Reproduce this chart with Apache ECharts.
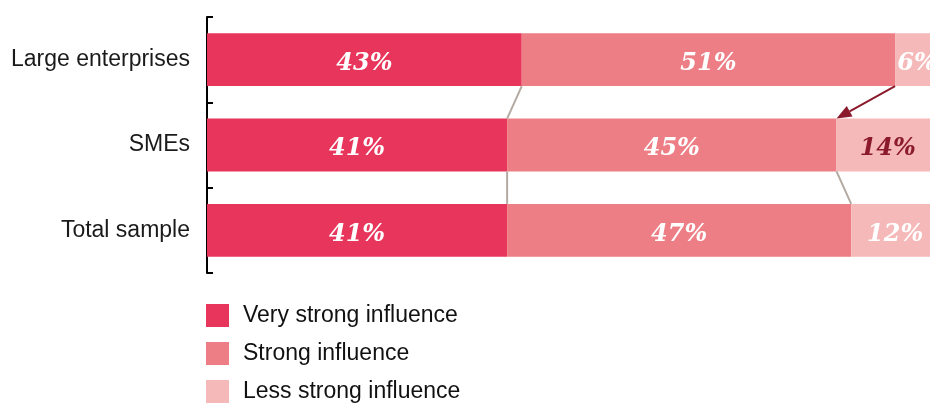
<!DOCTYPE html>
<html>
<head>
<meta charset="utf-8">
<script src="https://cdn.jsdelivr.net/npm/echarts@6/dist/echarts.min.js"></script>
<style>
html, body { margin: 0; padding: 0; background: #fff; overflow: hidden; }
#chart { width: 939px; height: 404px; }
</style>
</head>
<body>
<div id="chart"></div>
<script>
var categories = ['Large enterprises', 'SMEs', 'Total sample'];
var veryStrong = [43, 41, 41];
var strong = [51, 45, 47];
var lessStrong = [6, 14, 12];
var seriesNames = ['Very strong influence', 'Strong influence', 'Less strong influence'];

// connectors: [fromRow, toRow, boundary] ; boundary 1 = after very strong, 2 = after strong
var greyLinks = [[0, 1, 1], [1, 2, 1], [1, 2, 2]];
var arrowLinks = [[0, 1, 2]];

function edge(row, b) {
  return b === 1 ? veryStrong[row] : veryStrong[row] + strong[row];
}
var linkData = greyLinks.map(function (l) {
  return [edge(l[0], l[2]), l[0], edge(l[1], l[2]), l[1], 0];
}).concat(arrowLinks.map(function (l) {
  return [edge(l[0], l[2]), l[0], edge(l[1], l[2]), l[1], 1];
}));

var chart = echarts.init(document.getElementById('chart'));

var labelFont = {
  show: true,
  position: 'inside',
  offset: [0, 4],
  color: '#fff',
  fontFamily: 'DejaVu Serif',
  fontStyle: 'italic',
  fontWeight: 'bold',
  fontSize: 24,
  formatter: '{c}%'
};

var option = {
  animation: false,
  legend: {
    orient: 'vertical',
    left: 206,
    top: 304,
    height: 110,
    padding: 0,
    itemWidth: 23,
    itemHeight: 23,
    itemGap: 15,
    icon: 'rect',
    selectedMode: false,
    data: seriesNames,
    textStyle: { fontFamily: 'Liberation Sans', fontSize: 23, color: '#111', padding: [6, 0, 0, 9] }
  },
  grid: { left: 207, right: 0, top: 17, bottom: 131 },
  xAxis: {
    type: 'value',
    min: 0,
    max: 100,
    show: false
  },
  yAxis: {
    type: 'category',
    inverse: true,
    data: categories,
    axisLine: { show: true, lineStyle: { color: '#000', width: 2 } },
    axisTick: { show: true, inside: true, length: 6, lineStyle: { color: '#000', width: 2 } },
    axisLabel: { margin: 17, fontFamily: 'Liberation Sans', fontSize: 23, color: '#1a1a1a', padding: [8, 0, 0, 0] }
  },
  series: [
    {
      name: seriesNames[0], type: 'bar', stack: 'all', barCategoryGap: '38%',
      itemStyle: { color: '#E8355B' }, label: labelFont, data: veryStrong
    },
    {
      name: seriesNames[1], type: 'bar', stack: 'all', barCategoryGap: '38%',
      itemStyle: { color: '#ED7E85' }, label: labelFont, data: strong
    },
    {
      name: seriesNames[2], type: 'bar', stack: 'all', barCategoryGap: '38%',
      itemStyle: { color: '#F5B9B9' }, label: labelFont,
      data: lessStrong.map(function (v, i) {
        return { value: v, label: { color: i === 1 ? '#8B1A2C' : '#fff' } };
      })
    },
    {
      type: 'custom',
      coordinateSystem: 'cartesian2d',
      silent: true,
      z: 5,
      clip: false,
      data: linkData,
      renderItem: function (params, api) {
        var half = api.size([0, 1])[1] * 0.62 / 2;
        var a = api.coord([api.value(0), api.value(1)]);
        var b = api.coord([api.value(2), api.value(3)]);
        var x1 = a[0], y1 = a[1] + half, x2 = b[0], y2 = b[1] - half;
        if (api.value(4) === 0) {
          return {
            type: 'line',
            shape: { x1: x1, y1: y1, x2: x2, y2: y2 },
            style: { stroke: '#B3AAA2', lineWidth: 2 }
          };
        }
        var dx = x2 - x1, dy = y2 - y1, len = Math.sqrt(dx * dx + dy * dy);
        var ux = dx / len, uy = dy / len;
        var hl = 15, hw = 6;
        var bx = x2 - ux * hl, by = y2 - uy * hl;
        return {
          type: 'group',
          children: [
            {
              type: 'line',
              shape: { x1: x1, y1: y1, x2: bx, y2: by },
              style: { stroke: '#8B1A2C', lineWidth: 2 }
            },
            {
              type: 'polygon',
              shape: { points: [[x2, y2], [bx - uy * hw, by + ux * hw], [bx + uy * hw, by - ux * hw]] },
              style: { fill: '#8B1A2C' }
            }
          ]
        };
      }
    }
  ]
};
chart.setOption(option);
</script>
</body>
</html>
